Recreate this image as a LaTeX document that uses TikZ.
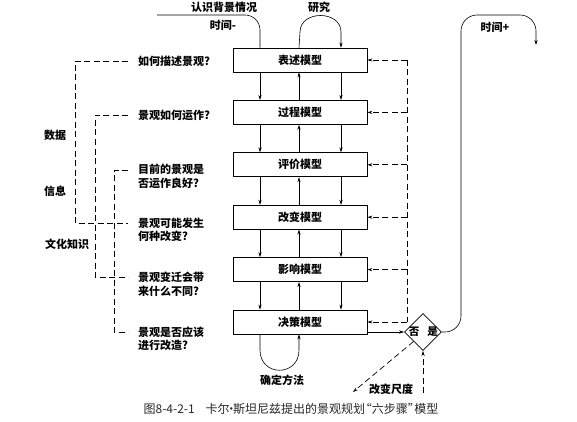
\documentclass[tikz,border=0pt]{standalone}
\usepackage{fontspec}
\setmainfont{Noto Sans CJK SC}
\usetikzlibrary{arrows.meta,shapes.geometric}
\begin{document}
\begin{tikzpicture}[x=1pt,y=-1pt,
  model/.style={draw,line width=0.8pt,minimum width=134pt,minimum height=24pt,inner sep=0pt,font=\bfseries\fontsize{11}{12}\selectfont},
  lbl/.style={font=\bfseries\fontsize{11}{13.5}\selectfont,inner sep=0pt},
  qlbl/.style={lbl,anchor=west,align=left},
  arr/.style={-{Stealth[length=5pt,width=3.2pt]},line width=0.6pt},
  dsh/.style={dash pattern=on 6pt off 3.5pt,line width=0.7pt},
  darr/.style={dsh,-{Stealth[length=5pt,width=3.2pt]}},
  thin/.style={line width=0.6pt}]
\useasboundingbox (0,0) rectangle (577,422);

% model boxes
\node[model] (b1) at (300,60) {表述模型};
\node[model] (b2) at (300,112.4) {过程模型};
\node[model] (b3) at (300,164.8) {评价模型};
\node[model] (b4) at (300,217.2) {改变模型};
\node[model] (b5) at (300,269.6) {影响模型};
\node[model] (b6) at (300,322) {决策模型};

\coordinate (cl) at (260,0);
\coordinate (cm) at (299,0);
\coordinate (cr) at (341,0);
\coordinate (rd) at (407,0);

\foreach \i/\j in {1/2,2/3,3/4,4/5,5/6}{
  \draw[arr] (b\i.south -| cl) -- (b\j.north -| cl);
  \draw[arr] (b\j.north -| cm) -- (b\i.south -| cm);
  \draw[arr] (b\i.south -| cr) -- (b\j.north -| cr);
}

% top inputs
\coordinate (bg) at (157,15);
\draw[thin,rounded corners=15pt] (bg) -- (260,15) -- (b1.north -| cl);
\node[lbl] (tbg) at (224,7) {认识背景情况};
\node[lbl] (tminus) at (223,25) {时间-};
\draw[arr] (b1.north -| cm) -- (300,32) .. controls (300,10) and (341,10) .. (341,32) -- (b1.north -| cr);
\node[lbl] (tres) at (319,7) {研究};

% bottom loop
\draw[arr] (b6.south -| cl) -- (260,350) .. controls (260,377) and (299,377) .. (299,350) -- (b6.south -| cm);
\node[lbl] (tmeth) at (282,380) {确定方法};

% right dashed feedback
\draw[dsh] (b1.east -| rd) -- (b6.east -| rd);
\foreach \i in {1,...,6}{
  \draw[darr] (b\i.east -| rd) -- (b\i.east);
}

% decision diamond
\node[draw,diamond,minimum width=37pt,minimum height=37pt,inner sep=0pt,line width=0.7pt] (d) at (423,332) {};
\node[lbl,font=\bfseries\fontsize{10.5}{12}\selectfont] (dno) at (414,332) {否};
\node[lbl,font=\bfseries\fontsize{10.5}{12}\selectfont] (dyes) at (432.5,332) {是};
\draw[arr] (d.west -| b6.east) -- (d.west);

\coordinate (tp) at (536,45);
\draw[arr,rounded corners=16pt] (d.east) -- (461,332) -- (461,15) -- (536,15) -- (tp);
\node[lbl] (tplus) at (495,27) {时间+};

\coordinate (sc) at (353,392);
\draw[darr] (d.south west) -- (sc);
\coordinate (sb) at (423,393);
\draw[darr] (sb) -- (d.south);
\node[lbl] (tscale) at (391,389) {改变尺度};

% questions
\node[qlbl] (q1) at (138,61) {如何描述景观?};
\node[qlbl] (q2) at (138,115) {景观如何运作?};
\node[qlbl] (q3) at (138,176.5) {目前的景观是\\否运作良好?};
\node[qlbl] (q4) at (138,230) {景观可能发生\\何种改变?};
\node[qlbl] (q5) at (138,284.5) {景观变迁会带\\来什么不同?};
\node[qlbl] (q6) at (138,339) {景观是否应该\\进行改造?};

% left dashed brackets
\draw[dsh] (128,61) -- (75,61) -- (75,223) -- (128,223);
\draw[dsh] (128,115) -- (95,115) -- (95,277) -- (128,277);
\draw[dsh] (128,170) -- (114,170) -- (114,332) -- (128,332);

\node[lbl] (ldata) at (55,135) {数据};
\node[lbl] (linfo) at (55,191) {信息};
\node[lbl] (lcult) at (67,244) {文化知识};

% caption
\node[inner sep=0pt,font=\fontsize{12}{14}\selectfont,text=black!85] (cap) at (291,409) {图8-4-2-1\hspace{0.9em}卡尔\kern-.35em·\kern-.35em斯坦尼兹提出的景观规划\kern-.45em“六步骤”\kern-.45em模型};
\end{tikzpicture}
\end{document}
